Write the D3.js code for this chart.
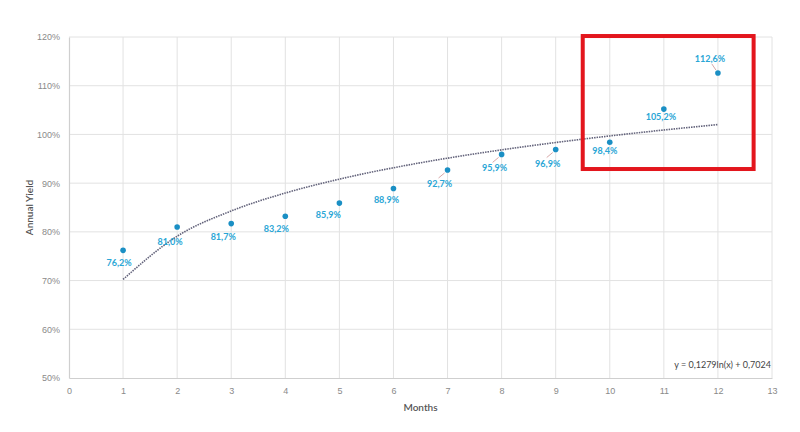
<!DOCTYPE html>
<html>
<head>
<meta charset="utf-8">
<script src="https://cdn.jsdelivr.net/npm/d3@7"></script>
<style>
  body { margin: 0; background: #fff; }
  svg { font-family: Lato, "Open Sans", sans-serif; }
</style>
</head>
<body>
<div id="chart"></div>
<script>
//========================
//   Data
//========================
var months = [1, 2, 3, 4, 5, 6, 7, 8, 9, 10, 11, 12];
var yields = [76.2, 81.0, 81.7, 83.2, 85.9, 88.9, 92.7, 95.9, 96.9, 98.4, 105.2, 112.6];
var labels = ["76,2%", "81,0%", "81,7%", "83,2%", "85,9%", "88,9%", "92,7%", "95,9%", "96,9%", "98,4%", "105,2%", "112,6%"];
//label offsets (px) from each point
var labelDx = [-4, -7, -8, -9, -11, -7, -8, -7, -8, -5, -3, -8];
var labelDy = [13, 15, 13, 13, 12, 11, 14, 14, 14, 9, 8, -14];
var leader = [false, false, false, false, false, false, true, true, true, false, false, true];

var xTicks = d3.range(0, 14);
var yTicks = [50, 60, 70, 80, 90, 100, 110, 120];

//trend line y = a*ln(x) + b (as printed on the chart)
var trendA = 0.1279, trendB = 0.7024;
var trendText = "y = 0,1279ln(x) + 0,7024";

//highlight box (data coords)
var boxX = [9.5, 12.66];
var boxY = [92.9, 120.2];

//========================
//   Layout
//========================
var width = 800, height = 432;
var margin = {left: 69, right: 28, top: 37, bottom: 54};

var svg = d3.select("#chart").append("svg")
  .attr("width", width).attr("height", height);

var x = d3.scaleLinear().domain([0, 13]).range([margin.left, width - margin.right]);
var y = d3.scaleLinear().domain([50, 120]).range([height - margin.bottom, margin.top]);

//grid
svg.append("g").selectAll("line").data(xTicks.slice(1)).join("line")
  .attr("x1", d => x(d)).attr("x2", d => x(d))
  .attr("y1", y(50)).attr("y2", y(120))
  .attr("stroke", "#e2e2e2").attr("stroke-width", 1);
svg.append("g").selectAll("line").data(yTicks.slice(1)).join("line")
  .attr("x1", x(0)).attr("x2", x(13))
  .attr("y1", d => y(d)).attr("y2", d => y(d))
  .attr("stroke", "#e2e2e2").attr("stroke-width", 1);

//axes
var xAxis = svg.append("g")
  .attr("transform", "translate(0," + y(50) + ")")
  .call(d3.axisBottom(x).tickValues(xTicks).tickSize(0).tickPadding(10));
var yAxis = svg.append("g")
  .attr("transform", "translate(" + x(0) + ",0)")
  .call(d3.axisLeft(y).tickValues(yTicks).tickSize(0).tickPadding(9).tickFormat(d => d + "%"));
[xAxis, yAxis].forEach(function(g) {
  g.select(".domain").attr("stroke", "#cfcfcf").attr("stroke-width", 1.2);
  g.selectAll("text").attr("fill", "#8a8a8a").attr("font-size", 9);
});

//axis titles
svg.append("text")
  .attr("x", x(6.5)).attr("y", 411)
  .attr("text-anchor", "middle").attr("fill", "#555").attr("font-size", 10)
  .attr("font-weight", 600)
  .text("Months");
svg.append("text")
  .attr("transform", "translate(33," + y(85) + ") rotate(-90)")
  .attr("text-anchor", "middle").attr("fill", "#555").attr("font-size", 10)
  .attr("font-weight", 600)
  .text("Annual Yield");

//trend line
var line = d3.line()
  .x(d => x(d))
  .y(d => y((trendA * Math.log(d) + trendB) * 100))
  .curve(d3.curveMonotoneX);
svg.append("path")
  .datum(months)
  .attr("d", line)
  .attr("fill", "none")
  .attr("stroke", "#62627a")
  .attr("stroke-width", 1.6)
  .attr("stroke-dasharray", "1.5,1");

//leader lines
svg.append("g").selectAll("line").data(months.filter((d, i) => leader[i])).join("line")
  .each(function(d) {
    var i = months.indexOf(d);
    var px = x(d), py = y(yields[i]);
    var up = labelDy[i] < 0;
    d3.select(this)
      .attr("x1", px + (up ? -2 : -3)).attr("y1", py + (up ? -3 : 3))
      .attr("x2", px + (up ? -6 : -9)).attr("y2", py + (up ? -9 : 8));
  })
  .attr("stroke", "#d8a8a8").attr("stroke-width", 1);

//points
svg.append("g").selectAll("circle").data(months).join("circle")
  .attr("cx", d => x(d))
  .attr("cy", (d, i) => y(yields[i]))
  .attr("r", 2.8)
  .attr("fill", "#1a8fc4");

//labels
svg.append("g").selectAll("text").data(months).join("text")
  .attr("x", (d, i) => x(d) + labelDx[i])
  .attr("y", (d, i) => y(yields[i]) + labelDy[i] + 3)
  .attr("text-anchor", "middle")
  .attr("fill", "#2aa6d6")
  .attr("font-size", 9)
  .attr("font-weight", "bold")
  .text((d, i) => labels[i]);

//equation
svg.append("text")
  .attr("x", x(13) - 1).attr("y", 368)
  .attr("text-anchor", "end").attr("fill", "#444").attr("font-size", 9)
  .text(trendText);

//highlight box
svg.append("rect")
  .attr("x", x(boxX[0])).attr("y", y(boxY[1]))
  .attr("width", x(boxX[1]) - x(boxX[0]))
  .attr("height", y(boxY[0]) - y(boxY[1]))
  .attr("fill", "none")
  .attr("stroke", "#e3161d")
  .attr("stroke-width", 4);
</script>
</body>
</html>
